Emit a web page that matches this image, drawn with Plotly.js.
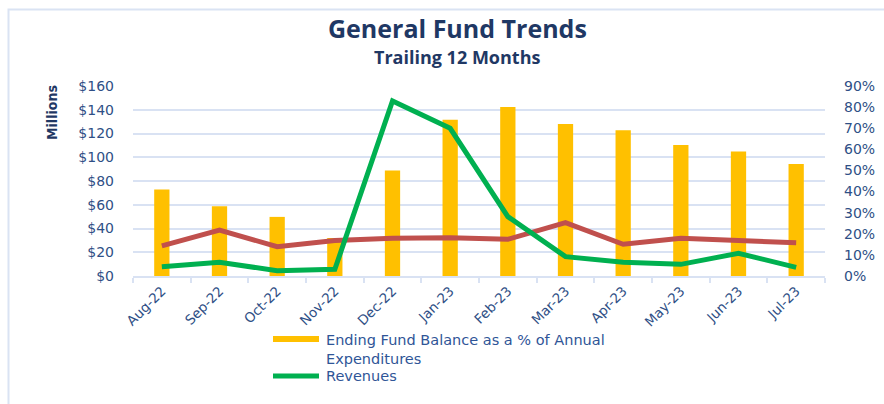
<!DOCTYPE html>
<html>
<head>
<meta charset="utf-8">
<script src="https://cdn.plot.ly/plotly-3.0.1.min.js"></script>
<style>html,body{margin:0;padding:0;background:#fff;}#chart{width:884px;height:404px;}</style>
</head>
<body>
<div id="chart"></div>
<script>
// ---- data ----
const months = ["Aug-22","Sep-22","Oct-22","Nov-22","Dec-22","Jan-23","Feb-23","Mar-23","Apr-23","May-23","Jun-23","Jul-23"];
const fundBalancePct = [41, 33, 28, 18, 50, 74, 80, 72, 69, 62, 59, 53];
const revenues = [7.8, 11.5, 4.5, 5.6, 147.4, 124.4, 50, 16.3, 11.5, 9.8, 19.1, 7.3];
const expenditures = [25.3, 38.7, 24.7, 29.8, 31.7, 32.3, 30.9, 44.9, 26.7, 31.7, 29.8, 28.1];
const dollarTicks = [0, 20, 40, 60, 80, 100, 120, 140, 160];
const pctTicks = [0, 10, 20, 30, 40, 50, 60, 70, 80, 90];

const tickColor = "#2F4F86";
const navy = "#1F3864";
const grid = "#D9E2F3";

const traces = [
  {type: "bar", x: months, y: fundBalancePct, yaxis: "y",
   name: "Ending Fund Balance as a % of Annual Expenditures",
   marker: {color: "#FFC000"}, showlegend: false, hoverinfo: "x+y"},
  {type: "scatter", mode: "lines", x: months, y: expenditures, yaxis: "y2",
   name: "Expenditures", line: {color: "#C0504D", width: 5}, showlegend: false},
  {type: "scatter", mode: "lines", x: months, y: revenues, yaxis: "y2",
   name: "Revenues", line: {color: "#00B050", width: 5}, showlegend: false}
];

function px(x){ return (x - 133) / 692; }
function py(y){ return (276 - y) / 190; }

const layout = {
  width: 884, height: 404,
  margin: {l: 133, r: 59, t: 86, b: 128},
  paper_bgcolor: "#fff", plot_bgcolor: "rgba(0,0,0,0)",
  showlegend: false,
  bargap: 0.735,
  font: {family: "DejaVu Sans", color: tickColor},
  xaxis: {
    type: "category", showgrid: false, showline: true, linecolor: grid, linewidth: 2,
    ticks: "outside", tickson: "boundaries", ticklen: 5, tickcolor: grid, tickwidth: 2,
    tickangle: -45, tickfont: {size: 13.5, color: tickColor}, zeroline: false
  },
  yaxis: {
    side: "right", range: [0, 90], tickvals: pctTicks, ticktext: pctTicks.map(v => v + "%"),
    showgrid: false, zeroline: false, showline: false,
    tickfont: {size: 14, color: tickColor}, ticklabelstandoff: 18
  },
  yaxis2: {
    overlaying: "y", side: "left", range: [0, 160], tickvals: dollarTicks,
    ticktext: dollarTicks.map(v => "$" + v), showgrid: true, gridcolor: grid, gridwidth: 2,
    zeroline: false, showline: false,
    tickfont: {size: 14, color: tickColor}, ticklabelstandoff: 18
  },
  annotations: [
    {text: "<b>General Fund Trends</b>", xref: "paper", yref: "paper", x: px(457), y: py(28),
     xanchor: "center", yanchor: "middle", showarrow: false,
     font: {family: "Open Sans", size: 25, color: navy}},
    {text: "<b>Trailing 12 Months</b>", xref: "paper", yref: "paper", x: px(457), y: py(57),
     xanchor: "center", yanchor: "middle", showarrow: false,
     font: {family: "Open Sans", size: 18, color: navy}},
    {text: "<b>Millions</b>", xref: "paper", yref: "paper", x: px(52), y: py(113),
     xanchor: "center", yanchor: "middle", showarrow: false, textangle: -90,
     font: {family: "DejaVu Sans Condensed, DejaVu Sans", size: 14, color: navy}},
    {text: "Ending Fund Balance as a % of Annual<br>Expenditures", xref: "paper", yref: "paper",
     x: px(324), y: py(330), xanchor: "left", yanchor: "top", align: "left", showarrow: false,
     font: {family: "DejaVu Sans", size: 14.5, color: "#2F5597"}},
    {text: "Revenues", xref: "paper", yref: "paper",
     x: px(324), y: py(376), xanchor: "left", yanchor: "middle", align: "left", showarrow: false,
     font: {family: "DejaVu Sans", size: 14.5, color: "#2F5597"}}
  ],
  shapes: [
    {type: "rect", xref: "paper", yref: "paper", x0: px(8.5), x1: px(900), y0: py(9.5), y1: py(420),
     line: {color: "#DAE3F3", width: 2}, fillcolor: "rgba(0,0,0,0)", layer: "below"},
    {type: "rect", xref: "paper", yref: "paper", x0: px(273), x1: px(319), y0: py(336), y1: py(342),
     line: {width: 0}, fillcolor: "#FFC000"},
    {type: "line", xref: "paper", yref: "paper", x0: px(273), x1: px(319), y0: py(376), y1: py(376),
     line: {color: "#00B050", width: 5}}
  ]
};

Plotly.newPlot("chart", traces, layout, {displayModeBar: false, staticPlot: true});
</script>
</body>
</html>
